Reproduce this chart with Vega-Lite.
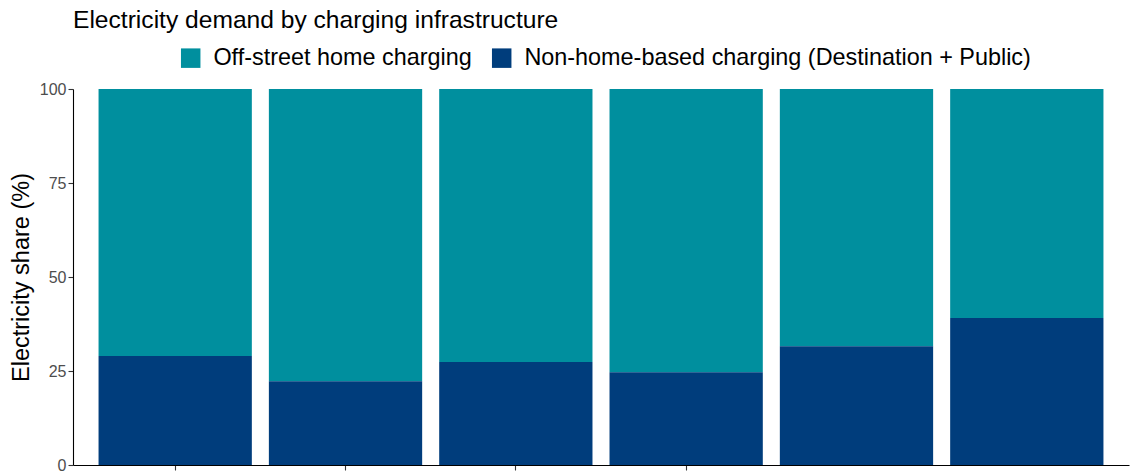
{
  "$schema": "https://vega.github.io/schema/vega-lite/v6.json",
  "autosize": {"type": "none"},
  "width": 1056,
  "height": 376,
  "padding": {"left": 73, "top": 89, "right": 2, "bottom": 8},
  "background": "white",
  "title": {
    "text": "Electricity demand by charging infrastructure",
    "anchor": "start",
    "frame": "group",
    "font": "Liberation Sans",
    "fontSize": 24.6,
    "fontWeight": "normal",
    "color": "#000000",
    "offset": 12
  },
  "data": {
    "values": [
      {"scenario": "A", "type": "Off-street home charging", "share": 71.0, "ord": 2},
      {"scenario": "A", "type": "Non-home-based charging (Destination + Public)", "share": 29.0, "ord": 1},
      {"scenario": "B", "type": "Off-street home charging", "share": 77.7, "ord": 2},
      {"scenario": "B", "type": "Non-home-based charging (Destination + Public)", "share": 22.3, "ord": 1},
      {"scenario": "C", "type": "Off-street home charging", "share": 72.6, "ord": 2},
      {"scenario": "C", "type": "Non-home-based charging (Destination + Public)", "share": 27.4, "ord": 1},
      {"scenario": "D", "type": "Off-street home charging", "share": 75.3, "ord": 2},
      {"scenario": "D", "type": "Non-home-based charging (Destination + Public)", "share": 24.7, "ord": 1},
      {"scenario": "E", "type": "Off-street home charging", "share": 68.4, "ord": 2},
      {"scenario": "E", "type": "Non-home-based charging (Destination + Public)", "share": 31.6, "ord": 1},
      {"scenario": "F", "type": "Off-street home charging", "share": 60.9, "ord": 2},
      {"scenario": "F", "type": "Non-home-based charging (Destination + Public)", "share": 39.1, "ord": 1}
    ]
  },
  "mark": {"type": "bar"},
  "encoding": {
    "x": {
      "field": "scenario",
      "type": "nominal",
      "scale": {"paddingInner": 0.1, "paddingOuter": 0.15},
      "axis": {
        "title": null,
        "labels": false,
        "values": ["A", "B", "C", "D"],
        "domainColor": "#000000",
        "domainWidth": 1.1,
        "tickColor": "#333333",
        "tickSize": 5,
        "tickWidth": 1.1
      }
    },
    "y": {
      "field": "share",
      "type": "quantitative",
      "stack": "zero",
      "scale": {"domain": [0, 100], "nice": false},
      "axis": {
        "title": "Electricity share (%)",
        "values": [0, 25, 50, 75, 100],
        "grid": false,
        "domainColor": "#000000",
        "domainWidth": 1.1,
        "tickColor": "#333333",
        "tickSize": 5,
        "tickWidth": 1.1,
        "labelFont": "Liberation Sans",
        "labelFontSize": 16,
        "labelColor": "#4D4D4D",
        "labelPadding": 2,
        "titleFont": "Liberation Sans",
        "titleFontSize": 23.5,
        "titleFontWeight": "normal",
        "titleColor": "#000000",
        "titlePadding": 6
      }
    },
    "color": {
      "field": "type",
      "type": "nominal",
      "scale": {
        "domain": ["Off-street home charging", "Non-home-based charging (Destination + Public)"],
        "range": ["#008F9E", "#003D7C"]
      },
      "legend": {
        "title": null,
        "orient": "none",
        "direction": "horizontal",
        "legendX": 106,
        "legendY": -43,
        "symbolType": "square",
        "symbolSize": 380,
        "symbolStrokeWidth": 0,
        "labelFont": "Liberation Sans",
        "labelFontSize": 23.4,
        "labelColor": "#000000",
        "labelOffset": 11,
        "columnPadding": 18,
        "labelLimit": 1000
      }
    },
    "order": {"field": "ord", "type": "quantitative"}
  },
  "config": {
    "view": {"stroke": null}
  }
}
